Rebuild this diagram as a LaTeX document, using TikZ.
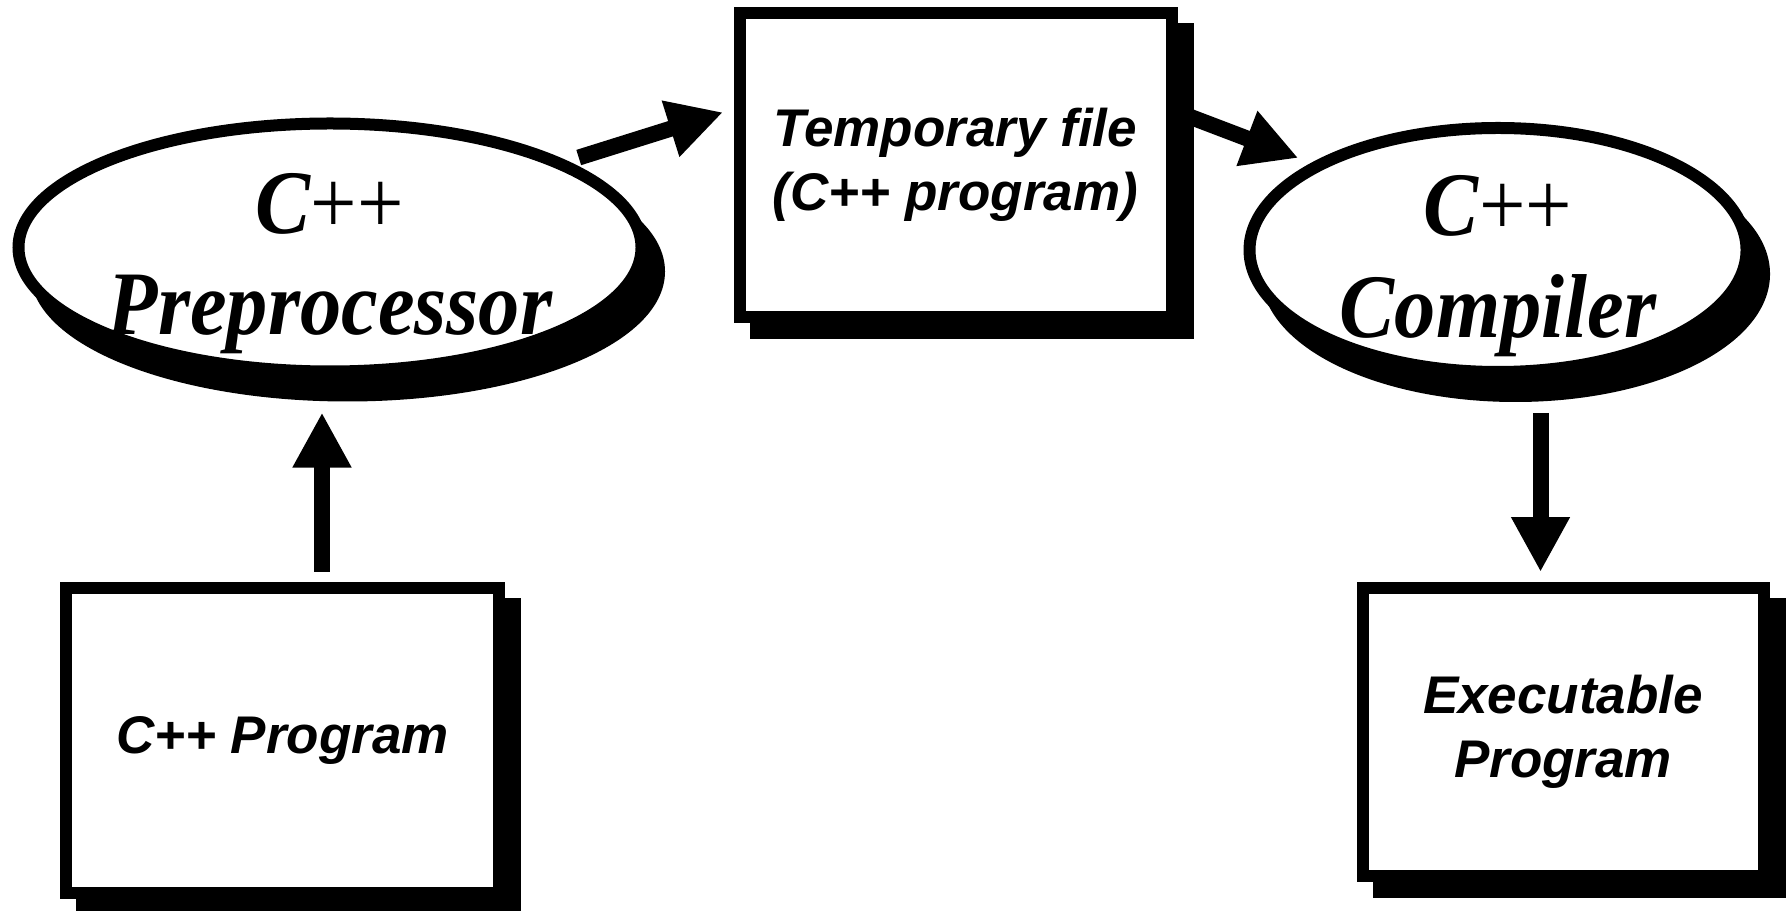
\documentclass[tikz,border=0pt]{standalone}
\usepackage{fontspec}
\setmainfont{Liberation Serif}
\setsansfont{Liberation Sans}
\usetikzlibrary{shapes.geometric,arrows.meta,positioning,calc}

\begin{document}
\begin{tikzpicture}[x=0.4pt,y=-0.4pt,
  oval/.style={draw,ellipse,line width=4.8pt,fill=white,inner sep=0pt,
    preaction={draw,fill=black,transform canvas={shift={(7pt,-9.6pt)}}}},
  box/.style={draw,rectangle,line width=4.8pt,fill=white,inner sep=0pt,align=center,
    font=\fontsize{21.2pt}{25.6pt}\selectfont\sffamily\bfseries\itshape,
    preaction={draw,fill=black,transform canvas={shift={(6.4pt,-6.4pt)}}}},
  ovaltxt/.style={align=center,inner sep=0pt,yscale=1.1,transform shape,
    font=\fontsize{33pt}{37pt}\selectfont\bfseries\itshape},
  arr/.style={-{Triangle[width=22pt,length=22pt]},line width=6.4pt}]
\useasboundingbox (0,0) rectangle (1787,911);
\node[oval,minimum width=249.2pt,minimum height=99.2pt] (pre) at (330,247.5) {};
\node[ovaltxt] (pretxt) at ([yshift=-6.4pt]pre.center) {C{\upshape\mdseries ++}\\Preprocessor};
\node[box,minimum width=172.8pt,minimum height=121.6pt,right=34.4pt of pre,yshift=33pt] (tmp) {Temporary file\\(C++ program)};
\node[oval,minimum width=198.8pt,minimum height=97.6pt,right=26.4pt of tmp,yshift=-34pt] (cmp) {};
\node[ovaltxt] (cmptxt) at ([yshift=-6.4pt]cmp.center) {C{\upshape\mdseries ++}\\Compiler};
\node[box,minimum width=173.2pt,minimum height=122pt,below=81.6pt of pre,xshift=-19pt] (prg) {C++ Program};
\node[box,minimum width=160.4pt,minimum height=115.2pt,below=81.6pt of cmp,xshift=26pt] (exe) {Executable\\Program};
\draw[arr,shorten <=4pt,shorten >=14pt] ($(pre.south |- prg.north)+(-3.2pt,0)$) -- ($(pre.south)+(-3.2pt,0)$);
\draw[arr,shorten <=4.8pt,shorten >=4.4pt] (pre.20) -- ([yshift=22.4pt]tmp.west);
\draw[arr,shorten >=5.6pt] ([yshift=21.2pt]tmp.east) -- (cmp.155);
\draw[arr,shorten <=14pt,shorten >=4pt] ($(exe.north |- cmp.south)+(-9pt,0)$) -- ($(exe.north)+(-9pt,0)$);
\end{tikzpicture}
\end{document}
